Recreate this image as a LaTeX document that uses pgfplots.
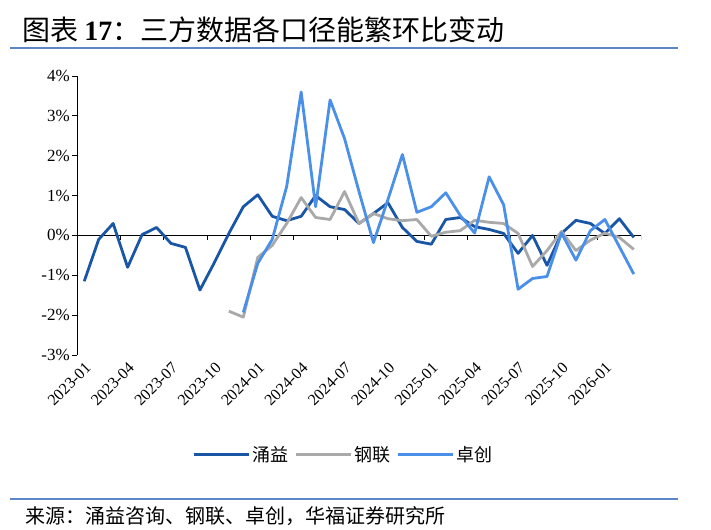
\documentclass[border=0pt]{standalone}
\usepackage{fontspec}
\setmainfont{Liberation Serif}
\newfontfamily\cjk{Noto Sans CJK SC}
\usepackage{pgfplots}
\pgfplotsset{compat=1.18}

\definecolor{yongyi}{HTML}{1A56A6}
\definecolor{ganglian}{HTML}{A9A9A9}
\definecolor{zhuochuang}{HTML}{4A8FE8}
\definecolor{rule}{HTML}{5B86C9}

\begin{document}
\begin{tikzpicture}[x=1bp,y=1bp]
\useasboundingbox[fill=white] (0,0) rectangle (711,-530);

% title and rules
\node[anchor=west, inner sep=0pt] at (22,-30)
  {\fontsize{28bp}{30bp}\selectfont\cjk 图表 \rmfamily\bfseries 17\cjk\mdseries ：三方数据各口径能繁环比变动};
\draw[rule, line width=1.5bp] (10,-48) -- (678,-48);
\draw[rule, line width=1.5bp] (10,-499) -- (678,-499);
\node[anchor=west, inner sep=0pt] at (25,-516)
  {\fontsize{20bp}{22bp}\selectfont\cjk 来源：涌益咨询、钢联、卓创，华福证券研究所};

\begin{axis}[
  at={(77bp,-355bp)}, anchor=south west,
  width=564bp, height=279bp, scale only axis,
  xmin=0, xmax=39, ymin=-3, ymax=4,
  axis lines*=left, separate axis lines,
  x axis line style={draw=none},
  y axis line style={black, line width=1bp},
  xtick={0.5,3.5,...,36.5},
  xticklabels={2023-01,2023-04,2023-07,2023-10,2024-01,2024-04,2024-07,2024-10,2025-01,2025-04,2025-07,2025-10,2026-01},
  xtick style={draw=none},
  xticklabel style={rotate=45, anchor=north east, inner sep=1pt, font=\fontsize{16bp}{18bp}\selectfont},
  ytick={-3,-2,...,4},
  yticklabels={-3\%,-2\%,-1\%,0\%,1\%,2\%,3\%,4\%},
  yticklabel style={font=\fontsize{17bp}{19bp}\selectfont, inner sep=2pt},
  ytick style={black, line width=1bp},
  tick align=outside, major tick length=5bp,
  ytick pos=left,
  line join=round,
  legend style={at={(0.472,-0.358)}, anchor=center, draw=none, fill=none,
    legend columns=-1, font=\fontsize{18bp}{20bp}\selectfont\cjk,
    /tikz/every even column/.append style={column sep=4bp}},
  legend image code/.code={\draw[#1, line width=3bp] (0,0) -- (55bp,0);},
]
\draw[black, line width=1bp] (axis cs:0,0) -- (axis cs:39,0);
\pgfplotsinvokeforeach{3,6,...,39}{\draw[black, line width=1bp] (axis cs:#1,0) -- (axis cs:#1,-0.125);}

\addplot[yongyi, line width=2.8bp] coordinates {
(0.5,-1.15)(1.5,-0.1)(2.5,0.3)(3.5,-0.8)(4.5,0.02)(5.5,0.2)(6.5,-0.2)(7.5,-0.3)
(8.5,-1.37)(9.5,-0.68)(10.5,0.05)(11.5,0.72)(12.5,1.02)(13.5,0.48)(14.5,0.37)
(15.5,0.48)(16.5,1.0)(17.5,0.72)(18.5,0.65)(19.5,0.3)(20.5,0.55)(21.5,0.82)
(22.5,0.2)(23.5,-0.15)(24.5,-0.22)(25.5,0.4)(26.5,0.45)(27.5,0.22)(28.5,0.15)
(29.5,0.05)(30.5,-0.45)(31.5,0.0)(32.5,-0.75)(33.5,0.05)(34.5,0.38)(35.5,0.3)
(36.5,0.05)(37.5,0.42)(38.5,-0.05)};
\addlegendentry{涌益}

\addplot[ganglian, line width=2.8bp] coordinates {
(10.5,-1.9)(11.5,-2.05)(12.5,-0.55)(13.5,-0.25)(14.5,0.3)(15.5,0.95)(16.5,0.45)
(17.5,0.4)(18.5,1.1)(19.5,0.3)(20.5,0.55)(21.5,0.42)(22.5,0.37)(23.5,0.4)
(24.5,-0.02)(25.5,0.08)(26.5,0.12)(27.5,0.38)(28.5,0.33)(29.5,0.3)(30.5,0.05)
(31.5,-0.78)(32.5,-0.38)(33.5,0.1)(34.5,-0.38)(35.5,-0.12)(36.5,0.06)(37.5,-0.05)
(38.5,-0.35)};
\addlegendentry{钢联}

\addplot[zhuochuang, line width=2.8bp] coordinates {
(11.5,-1.93)(12.5,-0.7)(13.5,-0.1)(14.5,1.23)(15.5,3.6)(16.5,0.72)(17.5,3.4)
(18.5,2.43)(19.5,1.1)(20.5,-0.18)(21.5,0.9)(22.5,2.03)(23.5,0.58)(24.5,0.72)
(25.5,1.07)(26.5,0.5)(27.5,0.06)(28.5,1.47)(29.5,0.77)(30.5,-1.35)(31.5,-1.08)
(32.5,-1.03)(33.5,0.06)(34.5,-0.62)(35.5,0.12)(36.5,0.4)(37.5,-0.28)(38.5,-0.97)};
\addlegendentry{卓创}
\end{axis}
\end{tikzpicture}
\end{document}
